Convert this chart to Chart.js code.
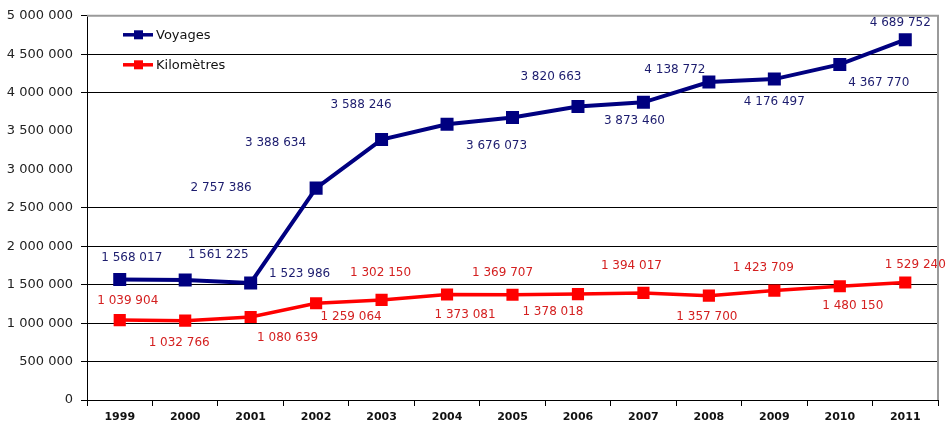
<!DOCTYPE html>
<html>
<head>
<meta charset="utf-8">
<script src="https://cdn.jsdelivr.net/npm/chart.js@4/dist/chart.umd.min.js"></script>
<style>
    html, body { margin: 0; padding: 0; background: #fff; }
    canvas { display: block; }
</style>
</head>
<body>
<canvas id="chart" width="952" height="433"></canvas>
<script>
// Data
const years = ["1999", "2000", "2001", "2002", "2003", "2004", "2005", "2006", "2007", "2008", "2009", "2010", "2011"];
const voyages = [1568017, 1561225, 1523986, 2757386, 3388634, 3588246, 3676073, 3820663, 3873460, 4138772, 4176497, 4367770, 4689752];
const kilometres = [1039904, 1032766, 1080639, 1259064, 1302150, 1373081, 1369707, 1378018, 1394017, 1357700, 1423709, 1480150, 1529240];
const seriesNames = ["Voyages", "Kilomètres"];
const yTicks = [0, 500000, 1000000, 1500000, 2000000, 2500000, 3000000, 3500000, 4000000, 4500000, 5000000];

// Label placement (offset from the point, in px)
const voyagesLabelOffsets = [[12, -22], [33, -25], [49, -9], [-95, 0], [-106, 3], [-86, -19], [-16, 28], [-27, -30], [-9, 19], [-34, -12], [0, 23], [39, 18], [-5, -17]];
const kilometresLabelOffsets = [[8, -19], [-6, 22], [37, 21], [35, 14], [-1, -27], [18, 20], [-10, -22], [-25, 18], [-12, -27], [-2, 21], [-11, -23], [13, 20], [10, -18]];

// Style
const navy = "#000080";
const red = "#ff0000";
const labelColors = ["#1c1c6e", "#d42020"];
const hiddenGrid = [3000000, 3500000];

const fmt = (n) => String(n).replace(/\B(?=(\d{3})+(?!\d))/g, " ");

// Plugin: data labels
const dataLabels = {
    id: "dataLabels",
    afterDatasetsDraw(chart) {
        const ctx = chart.ctx;
        const offsets = [voyagesLabelOffsets, kilometresLabelOffsets];
        ctx.save();
        ctx.font = "12px 'DejaVu Sans'";
        ctx.textAlign = "center";
        ctx.textBaseline = "middle";
        chart.data.datasets.forEach((ds, i) => {
            ctx.fillStyle = labelColors[i];
            chart.getDatasetMeta(i).data.forEach((pt, j) => {
                let [dx, dy] = offsets[i][j];
                ctx.fillText(fmt(ds.data[j]), pt.x + dx, pt.y + dy);
            });
        });
        ctx.restore();
    }
};

// Plugin: frame + legend inside plot
const frameLegend = {
    id: "frameLegend",
    afterDraw(chart) {
        const ctx = chart.ctx;
        const a = chart.chartArea;
        ctx.save();
        ctx.strokeStyle = "#9a9a9a";
        ctx.lineWidth = 2;
        ctx.beginPath();
        ctx.moveTo(a.left, a.top);
        ctx.lineTo(a.right, a.top);
        ctx.lineTo(a.right, a.bottom);
        ctx.stroke();

        const colors = [navy, red];
        ctx.font = "13px 'DejaVu Sans'";
        ctx.textBaseline = "middle";
        seriesNames.forEach((name, i) => {
            let y = a.top + 19 + i * 30;
            let x = a.left + 36;
            ctx.strokeStyle = colors[i];
            ctx.lineWidth = 3.5;
            ctx.beginPath();
            ctx.moveTo(x, y);
            ctx.lineTo(x + 30, y);
            ctx.stroke();
            ctx.fillStyle = colors[i];
            ctx.fillRect(x + 11, y - 4.5, 9, 9);
            ctx.fillStyle = "#111";
            ctx.fillText(name, x + 33, y + 1);
        });
        ctx.restore();
    }
};

// Chart
new Chart(document.getElementById("chart"), {
    type: "line",
    data: {
        labels: years,
        datasets: [
            {
                label: seriesNames[0],
                data: voyages,
                borderColor: navy,
                backgroundColor: navy,
                borderWidth: 4,
                pointStyle: "rect",
                pointRadius: 9.2,
                pointBorderWidth: 0,
                tension: 0
            },
            {
                label: seriesNames[1],
                data: kilometres,
                borderColor: red,
                backgroundColor: red,
                borderWidth: 3.5,
                pointStyle: "rect",
                pointRadius: 8.6,
                pointBorderWidth: 0,
                tension: 0
            }
        ]
    },
    options: {
        responsive: false,
        animation: false,
        devicePixelRatio: 1,
        layout: {padding: {left: 0, right: 14, top: 14, bottom: 0}},
        plugins: {
            legend: {display: false},
            tooltip: {enabled: false}
        },
        scales: {
            x: {
                offset: true,
                grid: {
                    offset: true,
                    drawOnChartArea: false,
                    color: "#000",
                    tickLength: 6
                },
                border: {color: "#000", width: 1},
                ticks: {
                    color: "#111",
                    font: {family: "'DejaVu Sans'", size: 11, weight: "bold"},
                    padding: 5,
                    maxRotation: 0
                },
                afterFit: (s) => { s.height = 33; }
            },
            y: {
                min: 0,
                max: 5000000,
                afterBuildTicks: (s) => { s.ticks = yTicks.map((v) => ({value: v})); },
                grid: {
                    color: (c) => hiddenGrid.includes(c.tick.value) ? "rgba(0,0,0,0)" : (c.tick.value === 5000000 ? "#9a9a9a" : "#000"),
                    tickColor: (c) => hiddenGrid.includes(c.tick.value) ? "rgba(0,0,0,0)" : "#000",
                    lineWidth: 1,
                    tickLength: 6
                },
                border: {color: "#000", width: 1},
                ticks: {
                    color: "#222",
                    font: {family: "'DejaVu Sans'", size: 13},
                    padding: 8,
                    callback: (v) => fmt(v)
                },
                afterFit: (s) => { s.width = 87; }
            }
        }
    },
    plugins: [dataLabels, frameLegend]
});
</script>
</body>
</html>
